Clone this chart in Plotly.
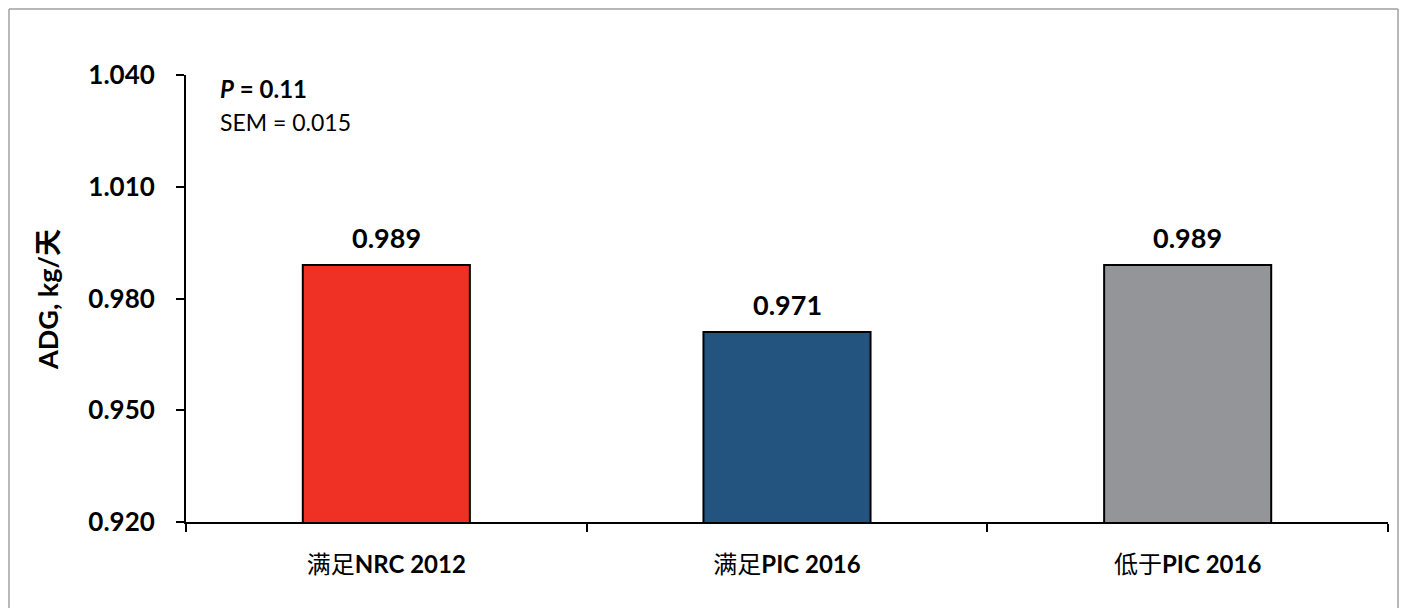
import plotly.graph_objects as go

categories = ["满足NRC 2012", "满足PIC 2016", "低于PIC 2016"]
cat_cjk = ["满足", "满足", "低于"]
cat_latin = ["NRC 2012", "PIC 2016", "PIC 2016"]
values = [0.989, 0.971, 0.989]
labels = ["0.989", "0.971", "0.989"]
colors = ["#EE3124", "#235480", "#939598"]
y_ticks = [0.920, 0.950, 0.980, 1.010, 1.040]
y_ticktext = ["0.920", "0.950", "0.980", "1.010", "1.040"]

OFF = 8  # page body margin
W, H = 1407 - 2 * OFF, 616 - 2 * OFF
L, T = 186 - OFF, 75 - OFF
pw, ph = 1202, 447
R = W - L - pw
B = H - T - ph

def px_x(x):
    return (x - OFF - L) / pw

def px_y(y):
    return (H - B - (y - OFF)) / ph

font_fam = "Lato, 'Noto Sans CJK SC', sans-serif"

fig = go.Figure()
fig.add_trace(go.Bar(
    x=categories,
    y=values,
    base=0,
    width=0.417,
    marker=dict(color=colors, line=dict(color="#000000", width=2)),
    cliponaxis=False,
))

for c, v, t in zip(categories, values, labels):
    fig.add_annotation(
        x=c, y=v, text=f"<b>{t}</b>", showarrow=False,
        xanchor="center", yanchor="bottom", yshift=9,
        font=dict(family=font_fam, size=27, color="#000000"),
    )

fig.update_layout(
    width=W, height=H,
    margin=dict(l=L, r=R, t=T, b=B, autoexpand=False),
    paper_bgcolor="white",
    plot_bgcolor="white",
    showlegend=False,
    font=dict(family=font_fam, color="#000000"),
    bargap=0.583,
)

fig.update_xaxes(
    showline=True, linecolor="#000000", linewidth=2,
    ticks="outside", ticklen=8, tickwidth=2, tickcolor="#000000",
    tickson="boundaries",
    showgrid=False, zeroline=False,
    tickfont=dict(family=font_fam, size=24, color="#000000"),
    tickvals=categories,
    ticktext=[f"{a}<b>{b}</b>" for a, b in zip(cat_cjk, cat_latin)],
    ticklabelstandoff=20,
    fixedrange=True,
)

fig.update_yaxes(
    range=[0.920, 1.040],
    showline=True, linecolor="#000000", linewidth=2,
    ticks="outside", ticklen=8, tickwidth=2, tickcolor="#000000",
    tickvals=y_ticks,
    ticktext=[f"<b>{t}</b>" for t in y_ticktext],
    tickfont=dict(family=font_fam, size=26, color="#000000"),
    showgrid=False, zeroline=False,
    ticklabelstandoff=16,
    fixedrange=True,
)

fig.add_annotation(
    xref="paper", yref="paper",
    x=px_x(47), y=px_y(300),
    text="<b>ADG, kg/天</b>",
    textangle=-90, showarrow=False,
    font=dict(family=font_fam, size=27, color="#000000"),
    xanchor="center", yanchor="middle",
)

fig.add_annotation(
    xref="paper", yref="paper",
    x=px_x(218), y=px_y(88),
    text="<b><i>P</i> = 0.11</b>",
    showarrow=False, xanchor="left", yanchor="middle",
    font=dict(family=font_fam, size=24, color="#000000"),
)
fig.add_annotation(
    xref="paper", yref="paper",
    x=px_x(218), y=px_y(122),
    text="SEM = 0.015",
    showarrow=False, xanchor="left", yanchor="middle",
    font=dict(family=font_fam, size=23, color="#000000"),
)

border = dict(color="#A0A0A0", width=1.5)
bx0, bx1 = px_x(OFF + 1), px_x(OFF + W - 1)
by_top, by_bot = px_y(OFF + 1), px_y(OFF + H)
fig.add_shape(type="line", xref="paper", yref="paper",
              x0=bx0, x1=bx1, y0=by_top, y1=by_top, line=border)
fig.add_shape(type="line", xref="paper", yref="paper",
              x0=bx0, x1=bx0, y0=by_top, y1=by_bot, line=border)
fig.add_shape(type="line", xref="paper", yref="paper",
              x0=bx1, x1=bx1, y0=by_top, y1=by_bot, line=border)

fig.write_html("out.html")
